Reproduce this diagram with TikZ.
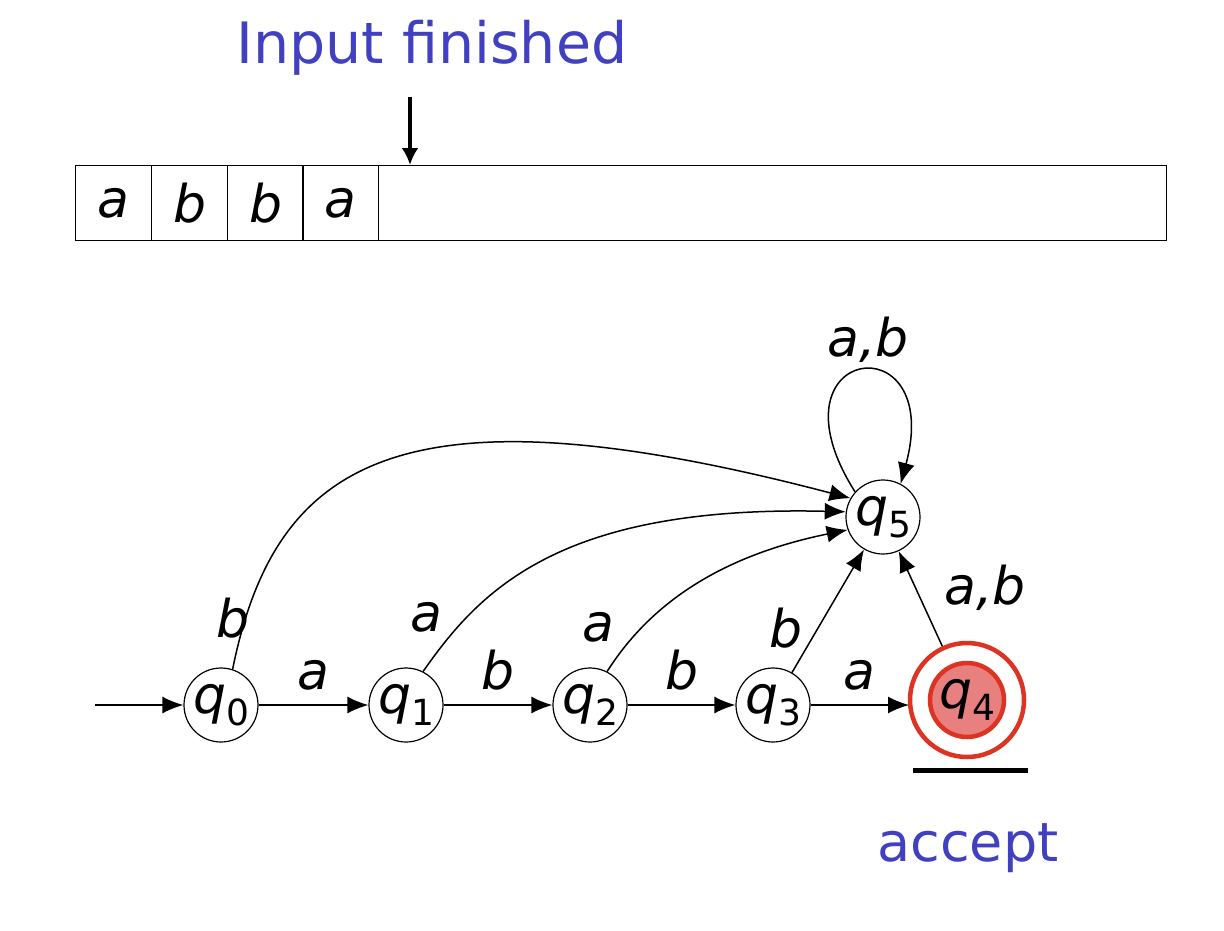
\documentclass[tikz,border=0pt]{standalone}
\usepackage{fontspec}
\setmainfont{DejaVu Sans}
\usetikzlibrary{arrows.meta}
\definecolor{blueT}{RGB}{64,64,192}
\definecolor{redS}{RGB}{221,51,34}
\definecolor{fillS}{RGB}{232,128,128}
\newcommand\qsub[1]{\textit{q}\raisebox{-0.22em}{\fontsize{36}{36}\selectfont\upshape #1}}
\tikzset{
  every node/.style={font=\fontsize{52}{56}\selectfont\itshape},
  stt/.style={circle, draw, line width=1.2pt, minimum size=74pt, inner sep=0pt},
  edge/.style={line width=1.5pt, -{Latex[length=21pt,width=17pt]}},
  lbl/.style={inner sep=0pt},
  bluetxt/.style={text=blueT, inner sep=0pt, font=\fontsize{54}{58}\selectfont},
  cell/.style={draw, line width=1.2pt, minimum width=76pt, minimum height=75pt, inner sep=0pt, anchor=north west}
}
\begin{document}
\begin{tikzpicture}[x=1pt,y=-1pt]
\useasboundingbox (0,0) rectangle (1224,930);
% title
\node[bluetxt, font=\fontsize{57}{60}\selectfont] (title) at (432,48) {Input finished};
% tape
\node[draw, line width=1.2pt, minimum width=1091pt, minimum height=75pt, anchor=north west, inner sep=0pt] (tape) at (75,165) {};
\node[cell] (c1) at (75,165) {};
\node[cell] (c2) at (151,165) {};
\node[cell] (c3) at (227,165) {};
\node[cell] (c4) at (302,165) {};
\node[lbl] at (c1.center) {a};
\node[lbl] at (c2.center) {b};
\node[lbl] at (c3.center) {b};
\node[lbl] at (c4.center) {a};
\coordinate (hd) at (410,97);
\coordinate (hdend) at (410,165);
\draw[line width=3.5pt, -{Latex[length=17pt,width=17pt]}] (hd) -- (hdend);
% states
\node[stt] (q0) at (221,705) {\qsub{0}};
\node[stt] (q1) at (406,705) {\qsub{1}};
\node[stt] (q2) at (590,705) {\qsub{2}};
\node[stt] (q3) at (773,705) {\qsub{3}};
\node[stt] (q5) at (883,517) {\qsub{5}};
\node[circle, draw=redS, line width=4.5pt, minimum size=114pt, inner sep=0pt] (q4) at (967,700) {};
\node[circle, draw=redS, fill=fillS, line width=4.5pt, minimum size=74pt, inner sep=0pt] (q4in) at (967,700) {\qsub{4}};
\coordinate (init) at (95,705);
\coordinate (q4w) at (909,705);
% edges
\draw[edge] (init) -- (q0);
\draw[edge] (q0) -- node[lbl, above=14pt] {a} (q1);
\draw[edge] (q1) -- node[lbl, above=14pt] {b} (q2);
\draw[edge] (q2) -- node[lbl, above=14pt] {b} (q3);
\draw[edge] (q3) -- node[lbl, above=14pt] {a} (q4w);
\draw[edge] (q0.72) .. controls (275,460) and (400,380) .. (q5.150);
\node[lbl] at (233,618) {b};
\draw[edge] (q1.63) .. controls (480,590) and (560,505) .. (q5.172);
\node[lbl] at (426,617) {a};
\draw[edge] (q2.63) .. controls (640,620) and (700,560) .. (q5.200);
\node[lbl] at (598,627) {a};
\draw[edge] (q3) -- (q5);
\node[lbl] at (786,628) {b};
\draw[edge] (q4) -- (q5);
\node[lbl] at (985,588) {a,b};
\draw[edge] (q5.138) .. controls (762,345) and (945,320) .. (q5.62);
\node[lbl] at (868,340) {a,b};
% accept
\coordinate (ul1) at (913,770);
\coordinate (ul2) at (1028,770);
\draw[line width=5pt] (ul1) -- (ul2);
\node[bluetxt] (acc) at (968,848) {accept};
\end{tikzpicture}
\end{document}
